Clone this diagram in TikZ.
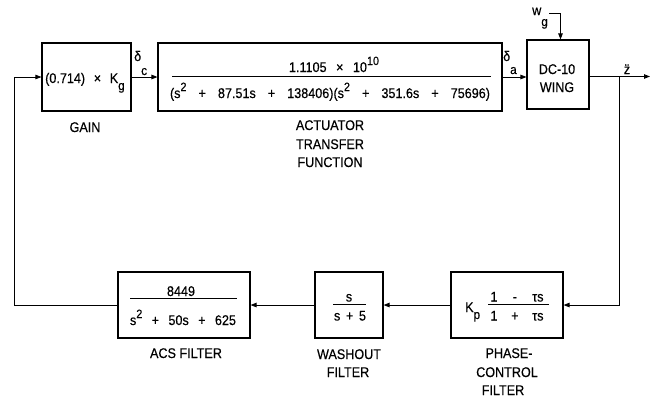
\documentclass[tikz,border=0pt]{standalone}
\usepackage{fontspec}
\setmainfont[FakeStretch=0.9,FakeBold=0.4]{Liberation Sans}
\usetikzlibrary{arrows.meta}
\newcommand{\supr}[1]{\raisebox{7pt}{\fontsize{12}{12}\selectfont #1}}
\newcommand{\subr}[2]{\raisebox{-#1}{\fontsize{13}{13}\selectfont #2}}
\begin{document}
\begin{tikzpicture}[x=1pt,y=-1pt,
  blk/.style={draw, line width=1.1pt, inner sep=0pt},
  txt/.style={inner sep=0pt, anchor=base, font=\fontsize{14}{16}\selectfont},
  wire/.style={line width=0.9pt},
  arr/.style={wire, -{Triangle[length=6pt,width=4.5pt]}},
  fbar/.style={line width=0.9pt}]
\useasboundingbox (0,0) rectangle (652,402);

% top row
\node[blk, minimum width=89pt, minimum height=68pt] (gain) at (86.5,77) {};
\node[txt, anchor=base west] (gaintx) at (45,83) {\makebox[73pt][s]{(0.714) × K}\subr{7pt}{g}};
\node[txt] (gainlbl) at (85,132) {GAIN};

\node[txt, anchor=base west] (dc) at (134,61) {δ\subr{14pt}{c}};

\node[blk, minimum width=344pt, minimum height=68pt] (act) at (330,77) {};
\node[txt] (actnum) at (334,72) {\makebox[78pt][s]{1.1105 × 10}\supr{10}};
\draw[fbar] (172,76) -- (491,76);
\node[txt] (actden) at (330,98) {\makebox[320pt][s]{(s\supr{2} + 87.51s + 138406)(s\supr{2} + 351.6s + 75696)}};
\node[txt] (actl1) at (330,130) {ACTUATOR};
\node[txt] (actl2) at (330,149) {TRANSFER};
\node[txt] (actl3) at (330,167) {FUNCTION};

\node[txt, anchor=base west] (da) at (503,61) {δ\subr{13pt}{a}};

\node[blk, minimum width=62pt, minimum height=69pt] (wing) at (558,74.5) {};
\node[txt] (wingA) at (557,74) {DC-10};
\node[txt] (wingB) at (557,92) {WING};

\node[txt, anchor=base west] (wg) at (532,15) {w\subr{11pt}{g}};
\coordinate (wgc) at (549,13);

\node[txt] (zdd) at (627,74) {\"z};
\coordinate (out) at (650,76.5);
\coordinate (br) at (619,76.5);
\coordinate (fbu) at (14,77);

% bottom row
\node[blk, minimum width=112pt, minimum height=66pt] (phase) at (507,305) {};
\node[txt, anchor=base west] (kp) at (465,312) {K\subr{7pt}{p}};
\node[txt] (phnum) at (517,301.5) {\makebox[53pt][s]{1 - τs}};
\draw[fbar] (488,304.5) -- (549,304.5);
\node[txt] (phden) at (517,320.5) {\makebox[53pt][s]{1 + τs}};
\node[txt] (phl1) at (509,358) {PHASE-};
\node[txt] (phl2) at (507,377) {CONTROL};
\node[txt] (phl3) at (503,395) {FILTER};

\node[blk, minimum width=68pt, minimum height=66pt] (wash) at (349,305) {};
\node[txt] (wanum) at (349,301.5) {s};
\draw[fbar] (333,304.5) -- (366,304.5);
\node[txt] (waden) at (350,320.5) {\makebox[32pt][s]{s + 5}};
\node[txt] (wal1) at (349,359) {WASHOUT};
\node[txt] (wal2) at (348,377) {FILTER};

\node[blk, minimum width=132pt, minimum height=66pt] (acs) at (184,305) {};
\node[txt] (acsnum) at (181,296) {8449};
\draw[fbar] (130,298) -- (237,298);
\node[txt] (acsden) at (183,325) {\makebox[106pt][s]{s\supr{2} + 50s + 625}};
\node[txt] (acsl) at (186,358) {ACS FILTER};

% connectors
\draw[arr] (gain) -- (act);
\draw[arr] (act.east) -- (act.east -| wing.west);
\draw[arr] (wgc) -| ([xshift=2.5pt]wing.north);
\draw[arr] (wing.east |- out) -- (out);
\draw[arr] (br) |- (phase.east);
\draw[arr] (phase) -- (wash);
\draw[arr] (wash) -- (acs);
\draw[arr, line width=0.7pt] (acs.west) -| (fbu) -- (gain.west);
\end{tikzpicture}
\end{document}
